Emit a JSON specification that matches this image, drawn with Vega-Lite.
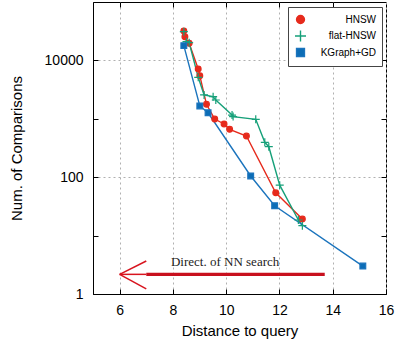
{
  "$schema": "https://vega.github.io/schema/vega-lite/v6.json",
  "width": 293,
  "height": 292,
  "autosize": "none",
  "padding": {"left": 93, "top": 2, "right": 13, "bottom": 50},
  "background": "white",
  "config": {
    "view": {"stroke": "black", "strokeWidth": 1},
    "font": "Liberation Sans",
    "axis": {"labelFont": "Liberation Sans", "titleFont": "Liberation Sans", "labelColor": "black", "titleColor": "black", "titleFontWeight": "normal", "tickColor": "black", "domainColor": "black", "gridColor": "#b0b0b0", "gridDash": [2, 3], "gridWidth": 1, "labelFontSize": 14, "titleFontSize": 15},
    "legend": {"orient": "none", "legendX": 195, "legendY": 5, "fillColor": "white", "strokeColor": "#444", "padding": 6,
      "labelFont": "Liberation Sans", "labelFontSize": 10, "labelColor": "black", "labelAlign": "right", "labelOffset": 69, "symbolSize": 121, "symbolStrokeWidth": 1.4, "rowPadding": 0.5}
  },
  "datasets": {
    "main": [
      {"series": "HNSW", "x": 8.41, "y": 31800},
      {"series": "HNSW", "x": 8.45, "y": 25500},
      {"series": "HNSW", "x": 8.61, "y": 19600},
      {"series": "HNSW", "x": 8.95, "y": 7130},
      {"series": "HNSW", "x": 9.01, "y": 5470},
      {"series": "HNSW", "x": 9.26, "y": 1770},
      {"series": "HNSW", "x": 9.57, "y": 990},
      {"series": "HNSW", "x": 9.92, "y": 815},
      {"series": "HNSW", "x": 10.13, "y": 660},
      {"series": "HNSW", "x": 10.76, "y": 507},
      {"series": "HNSW", "x": 11.86, "y": 54},
      {"series": "HNSW", "x": 12.86, "y": 19.2},
      {"series": "flat-HNSW", "x": 8.41, "y": 31000},
      {"series": "flat-HNSW", "x": 8.51, "y": 20900},
      {"series": "flat-HNSW", "x": 8.61, "y": 20100},
      {"series": "flat-HNSW", "x": 8.95, "y": 5140},
      {"series": "flat-HNSW", "x": 9.17, "y": 2560},
      {"series": "flat-HNSW", "x": 9.51, "y": 2390},
      {"series": "flat-HNSW", "x": 9.61, "y": 2100},
      {"series": "flat-HNSW", "x": 10.22, "y": 1160},
      {"series": "flat-HNSW", "x": 10.26, "y": 1090},
      {"series": "flat-HNSW", "x": 11.11, "y": 980},
      {"series": "flat-HNSW", "x": 11.45, "y": 396},
      {"series": "flat-HNSW", "x": 11.6, "y": 333},
      {"series": "flat-HNSW", "x": 12.01, "y": 73},
      {"series": "flat-HNSW", "x": 12.71, "y": 18.5},
      {"series": "flat-HNSW", "x": 12.86, "y": 14.8},
      {"series": "KGraph+GD", "x": 8.41, "y": 17900},
      {"series": "KGraph+GD", "x": 9.01, "y": 1660},
      {"series": "KGraph+GD", "x": 9.32, "y": 1270},
      {"series": "KGraph+GD", "x": 10.92, "y": 105},
      {"series": "KGraph+GD", "x": 11.82, "y": 32.5},
      {"series": "KGraph+GD", "x": 15.13, "y": 3.01}
    ],
    "arrow": [
      {"part": "shaft", "x": 7, "x2": 13.7, "y": 2.17, "y2": 2.17},
      {"part": "tail", "x": 6, "x2": 7, "y": 2.17, "y2": 2.17},
      {"part": "head", "x": 6, "x2": 7, "y": 2.17, "y2": 3.67},
      {"part": "head", "x": 6, "x2": 7, "y": 2.17, "y2": 1.22}
    ],
    "note": [
      {"x": 9.96, "y": 3.5, "text": "Direct. of NN search"}
    ]
  },
  "resolve": {"axis": {"x": "independent", "y": "independent"}},
  "layer": [
    {
      "data": {"name": "main"},
      "mark": {"type": "line", "strokeWidth": 1.4},
      "encoding": {
        "x": {"field": "x", "type": "quantitative", "scale": {"domain": [5, 16], "nice": false, "zero": false},
          "axis": {"orient": "bottom", "values": [6, 8, 10, 12, 14, 16], "title": "Distance to query", "tickSize": -5, "labelPadding": 14, "titlePadding": 6, "grid": true, "labelFlush": false}},
        "y": {"field": "y", "type": "quantitative", "scale": {"type": "log", "domain": [1, 100000], "nice": false},
          "axis": {"orient": "left", "values": [1, 10, 100, 1000, 10000], "title": "Num. of Comparisons", "tickSize": -5, "labelPadding": 15, "titlePadding": 20, "grid": true,
            "labelExpr": "(datum.value == 10 || datum.value == 1000) ? '' : format(datum.value, 'd')",
            "gridOpacity": {"condition": {"test": "datum.value == 1 || datum.value == 10 || datum.value == 1000", "value": 0}, "value": 1}}},
        "stroke": {"field": "series", "type": "nominal", "title": null, "scale": {"domain": ["HNSW", "flat-HNSW", "KGraph+GD"], "range": ["#e62a1c", "#16a079", "#1b74bd"]},
          "legend": {"encode": {"symbols": {"update": {"shape": {"signal": "datum.value == 'HNSW' ? 'M-1.27,0H1.27M0.6,0A0.6,0.6 0 1,1 -0.6,0A0.6,0.6 0 1,1 0.6,0Z' : datum.value == 'flat-HNSW' ? 'M-1.27,0H1.27M0,-0.75V0.75' : 'M-1.27,0H1.27M-0.6,-0.6H0.6V0.6H-0.6Z'"}}}}}}
      }
    },
    {
      "data": {"name": "main"},
      "mark": {"type": "point", "filled": true, "strokeWidth": 1.2, "opacity": 1, "size": 64},
      "encoding": {
        "x": {"field": "x", "type": "quantitative", "axis": null},
        "y": {"field": "y", "type": "quantitative", "axis": null},
        "fill": {"field": "series", "type": "nominal", "title": null, "scale": {"domain": ["HNSW", "flat-HNSW", "KGraph+GD"], "range": ["#e62a1c", "#16a079", "#0c6db6"]},
          "legend": {"encode": {"symbols": {"update": {"shape": {"signal": "datum.value == 'HNSW' ? 'M-1.27,0H1.27M0.6,0A0.6,0.6 0 1,1 -0.6,0A0.6,0.6 0 1,1 0.6,0Z' : datum.value == 'flat-HNSW' ? 'M-1.27,0H1.27M0,-0.75V0.75' : 'M-1.27,0H1.27M-0.6,-0.6H0.6V0.6H-0.6Z'"}}}}}},
        "stroke": {"field": "series", "type": "nominal", "title": null,
          "legend": {"encode": {"symbols": {"update": {"shape": {"signal": "datum.value == 'HNSW' ? 'M-1.27,0H1.27M0.6,0A0.6,0.6 0 1,1 -0.6,0A0.6,0.6 0 1,1 0.6,0Z' : datum.value == 'flat-HNSW' ? 'M-1.27,0H1.27M0,-0.75V0.75' : 'M-1.27,0H1.27M-0.6,-0.6H0.6V0.6H-0.6Z'"}}}}}},
        "shape": {"field": "series", "type": "nominal", "title": null, "scale": {"domain": ["HNSW", "flat-HNSW", "KGraph+GD"], "range": ["M0.72,0A0.72,0.72 0 1,1 -0.72,0A0.72,0.72 0 1,1 0.72,0Z", "M-1,0H1M0,-1V1", "M-0.72,-0.72H0.72V0.72H-0.72Z"]},
          "legend": {"encode": {"symbols": {"update": {"shape": {"signal": "datum.value == 'HNSW' ? 'M-1.27,0H1.27M0.6,0A0.6,0.6 0 1,1 -0.6,0A0.6,0.6 0 1,1 0.6,0Z' : datum.value == 'flat-HNSW' ? 'M-1.27,0H1.27M0,-0.75V0.75' : 'M-1.27,0H1.27M-0.6,-0.6H0.6V0.6H-0.6Z'"}}}}}}
      }
    },
    {
      "data": {"name": "arrow"},
      "transform": [{"filter": "datum.part == 'shaft'"}],
      "mark": {"type": "rule", "color": "#c8101e", "strokeWidth": 3.2},
      "encoding": {
        "x": {"field": "x", "type": "quantitative", "axis": null},
        "x2": {"field": "x2"},
        "y": {"field": "y", "type": "quantitative", "axis": null},
        "y2": {"field": "y2"}
      }
    },
    {
      "data": {"name": "arrow"},
      "transform": [{"filter": "datum.part != 'shaft'"}],
      "mark": {"type": "rule", "color": "#d8141e", "strokeWidth": 1.5},
      "encoding": {
        "x": {"field": "x", "type": "quantitative", "axis": null},
        "x2": {"field": "x2"},
        "y": {"field": "y", "type": "quantitative", "axis": null},
        "y2": {"field": "y2"}
      }
    },
    {
      "data": {"name": "note"},
      "mark": {"type": "text", "font": "Liberation Serif", "fontSize": 13, "color": "#222", "align": "center", "baseline": "middle"},
      "encoding": {
        "x": {"field": "x", "type": "quantitative", "axis": {"orient": "top", "values": [6, 8, 10, 12, 14], "labels": false, "grid": false, "domain": false, "tickSize": -5, "title": null}},
        "y": {"field": "y", "type": "quantitative", "axis": {"orient": "right", "values": [1, 10, 100, 1000, 10000], "labels": false, "grid": false, "domain": false, "tickSize": -5, "title": null}},
        "text": {"field": "text"}
      }
    }
  ]
}
